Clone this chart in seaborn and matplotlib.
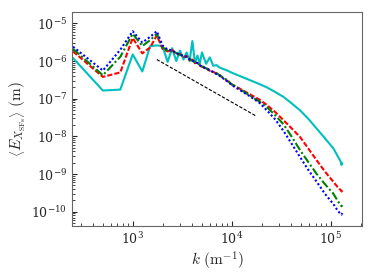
import numpy as np
import pandas as pd
import matplotlib
matplotlib.use('Agg')
import matplotlib.pyplot as plt
import seaborn as sns

# wavenumbers (m^-1)
k = [250, 500, 750, 1000, 1250, 1500, 1750, 2000, 2250, 2500,
     2750, 3000, 3250, 3500, 3750, 4000, 4250, 4500, 4750, 5000,
     5500, 6000, 6500, 7000, 7500, 8000, 9000, 10000,
     12500, 15300, 19000, 22600, 27500, 33200, 40000, 48900,
     59000, 72000, 87000, 106000, 117000, 125000, 128000, 130000]

E_cyan = [1.2e-6, 1.65e-7, 1.75e-7, 1.5e-6, 5.3e-7, 2.5e-6, 2.6e-6, 2.5e-6, 9.5e-7, 2.2e-6,
          1.0e-6, 1.9e-6, 1.1e-6, 1.7e-6, 1.0e-6, 3.4e-6, 9e-7, 1.4e-6, 8.5e-7, 1.7e-6,
          8.5e-7, 1.25e-6, 7.5e-7, 7.8e-7, 6.8e-7, 6.3e-7, 5.6e-7, 4.9e-7,
          3.85e-7, 3.1e-7, 2.45e-7, 2.0e-7, 1.5e-7, 1.12e-7, 7.6e-8, 4.9e-8,
          2.95e-8, 1.6e-8, 8.9e-9, 4.8e-9, 3.0e-9, 2.2e-9, 1.75e-9, 1.95e-9]

E_red = [1.8e-6, 3.8e-7, 5.0e-7, 4.1e-6, 1.6e-6, 2.3e-6, 4.8e-6, 2.1e-6, 1.8e-6, 2.0e-6,
         1.5e-6, 1.55e-6, 1.3e-6, 1.35e-6, 1.05e-6, 1.1e-6, 8.8e-7, 9e-7, 7.6e-7, 7.0e-7,
         6.5e-7, 5.5e-7, 5.2e-7, 4.6e-7, 4.3e-7, 3.7e-7, 3.0e-7, 2.4e-7,
         1.75e-7, 1.3e-7, 9.5e-8, 6.8e-8, 4.4e-8, 2.7e-8, 1.65e-8, 9.6e-9,
         4.8e-9, 2.3e-9, 1.17e-9, 6.2e-10, 4.5e-10, 3.8e-10, 3.45e-10, 3.7e-10]

E_green = [2.1e-6, 4.2e-7, 1.3e-6, 5.3e-6, 2.5e-6, 3.6e-6, 5.3e-6, 2.3e-6, 1.9e-6, 1.8e-6,
           1.65e-6, 1.45e-6, 1.4e-6, 1.25e-6, 1.15e-6, 1.0e-6, 9.5e-7, 8.6e-7, 8.0e-7, 7.4e-7,
           6.4e-7, 5.8e-7, 5.0e-7, 4.8e-7, 4.2e-7, 3.8e-7, 3.1e-7, 2.4e-7,
           1.7e-7, 1.2e-7, 8.4e-8, 6.0e-8, 3.6e-8, 2.1e-8, 1.0e-8, 4.3e-9,
           2.1e-9, 1.0e-9, 5.4e-10, 3.0e-10, 1.95e-10, 1.5e-10, 1.4e-10, 1.5e-10]

E_blue = [2.4e-6, 5.6e-7, 2.0e-6, 6.2e-6, 3.1e-6, 4.4e-6, 6.2e-6, 2.6e-6, 2.0e-6, 1.95e-6,
          1.6e-6, 1.5e-6, 1.35e-6, 1.3e-6, 1.1e-6, 1.05e-6, 9.2e-7, 8.8e-7, 7.8e-7, 7.2e-7,
          6.3e-7, 5.7e-7, 5.1e-7, 4.5e-7, 4.1e-7, 3.6e-7, 2.9e-7, 2.3e-7,
          1.6e-7, 1.15e-7, 7.8e-8, 4.9e-8, 2.8e-8, 1.4e-8, 6.5e-9, 2.8e-9,
          1.3e-9, 6.2e-10, 3.0e-10, 1.6e-10, 1.07e-10, 8.8e-11, 8.4e-11, 9.3e-11]

# k^-3/2 guide line
ref_k = [1750, 17500]
ref_E = [1.1e-6, 3.5e-8]

sns.set_style('ticks')
plt.rcParams['font.family'] = ['DejaVu Serif']
plt.rcParams['mathtext.fontset'] = 'cm'

fig = plt.figure(figsize=(3.74, 2.8), dpi=100)
ax = fig.add_axes([0.1925, 0.193, 0.7755, 0.764])

series = [(E_cyan, 'c', '-'),
          (E_red, 'r', (0, (2.5, 1.0))),
          (E_green, 'g', (0, (4.0, 1.2, 1.0, 1.2))),
          (E_blue, 'b', (0, (1.0, 1.1)))]
for E, col, ls in series:
    sns.lineplot(x=k, y=E, color=col, linestyle=ls, linewidth=1.5,
                 estimator=None, sort=False, ax=ax)

sns.lineplot(x=ref_k, y=ref_E, color='k', linestyle=(0, (3, 1.5)), linewidth=0.8,
             estimator=None, sort=False, ax=ax)

ax.set_xscale('log')
ax.set_yscale('log')
ax.set_xlim(244, 2.06e5)
ax.set_ylim(4.2e-11, 2e-5)

ax.tick_params(which='both', direction='in', labelsize=9)
ax.tick_params(which='major', length=3.5)
ax.tick_params(which='minor', length=2)
for s in ax.spines.values():
    s.set_color('0.4')

ax.set_xlabel(r'$k\ (\mathrm{m}^{-1})$', fontsize=11, labelpad=2)
ax.set_ylabel(r'$\left\langle E_{X_{\mathrm{SFs}}} \right\rangle\ (\mathrm{m})$', fontsize=11, labelpad=2)

fig.savefig('out.png', dpi=100)
